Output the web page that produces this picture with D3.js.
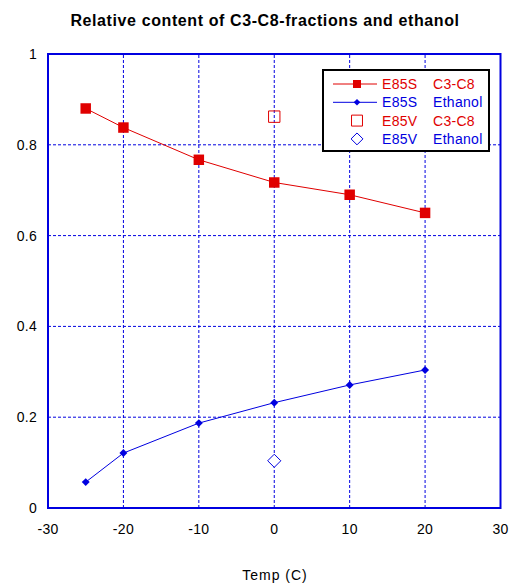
<!DOCTYPE html>
<html>
<head>
<meta charset="utf-8">
<script src="https://cdn.jsdelivr.net/npm/d3@7"></script>
<style>
  body { margin: 0; background: #fff; }
  text { font-family: "Liberation Sans", Arial, sans-serif; }
</style>
</head>
<body>
<div id="chart"></div>
<script>
var width = 509;
var height = 584;
var margin = {top: 54, right: 8, bottom: 76, left: 48};

// data
var temps = [-25, -20, -10, 0, 10, 20];
var e85sC3C8 = [0.880, 0.838, 0.767, 0.717, 0.690, 0.650];
var e85sEthanol = [0.057, 0.121, 0.187, 0.232, 0.271, 0.304];
var e85vTemp = [0];
var e85vC3C8 = [0.862];
var e85vEthanol = [0.104];

var xTicks = [-30, -20, -10, 0, 10, 20, 30];
var yTicks = [0, 0.2, 0.4, 0.6, 0.8, 1];

var legendRows = [
	{a: "E85S", b: "C3-C8", color: "#e00000", line: true, shape: "square", fill: true},
	{a: "E85S", b: "Ethanol", color: "#0000e0", line: true, shape: "diamond", fill: true},
	{a: "E85V", b: "C3-C8", color: "#e00000", line: false, shape: "square", fill: false},
	{a: "E85V", b: "Ethanol", color: "#0000e0", line: false, shape: "diamond", fill: false}
];

var svg = d3.select("#chart").append("svg")
	.attr("width", width)
	.attr("height", height);

var x = d3.scaleLinear().domain([-30, 30]).range([margin.left, width - margin.right - 0.5]);
var y = d3.scaleLinear().domain([0, 1]).range([height - margin.bottom, margin.top]);

var blue = "#0000e0";

// grid
svg.selectAll(".gx").data(xTicks.slice(1, -1)).enter().append("line")
	.attr("x1", function(d) { return x(d); })
	.attr("x2", function(d) { return x(d); })
	.attr("y1", y(0))
	.attr("y2", y(1))
	.attr("stroke", blue)
	.attr("stroke-width", 1)
	.attr("stroke-dasharray", "3,2");

svg.selectAll(".gy").data(yTicks.slice(1, -1)).enter().append("line")
	.attr("x1", x(-30))
	.attr("x2", x(30))
	.attr("y1", function(d) { return y(d); })
	.attr("y2", function(d) { return y(d); })
	.attr("stroke", blue)
	.attr("stroke-width", 1)
	.attr("stroke-dasharray", "3,2");

// frame
svg.append("rect")
	.attr("x", x(-30))
	.attr("y", y(1))
	.attr("width", x(30) - x(-30))
	.attr("height", y(0) - y(1))
	.attr("fill", "none")
	.attr("stroke", blue)
	.attr("stroke-width", 2);

// tick labels
svg.selectAll(".xt").data(xTicks).enter().append("text")
	.attr("x", function(d) { return x(d); })
	.attr("y", y(0) + 26)
	.attr("text-anchor", "middle")
	.style("font-size", "14px")
	.style("letter-spacing", "0.3px")
	.text(function(d) { return d; });

svg.selectAll(".yt").data(yTicks).enter().append("text")
	.attr("x", x(-30) - 11)
	.attr("y", function(d) { return y(d) + 5; })
	.attr("text-anchor", "end")
	.style("font-size", "14px")
	.style("letter-spacing", "0.3px")
	.text(function(d) { return d; });

// titles
svg.append("text")
	.attr("x", 265)
	.attr("y", 26)
	.attr("text-anchor", "middle")
	.attr("font-weight", "bold")
	.style("font-size", "16px")
	.style("letter-spacing", "0.6px")
	.text("Relative content of C3-C8-fractions and ethanol");

svg.append("text")
	.attr("x", 275)
	.attr("y", 580)
	.attr("text-anchor", "middle")
	.style("font-size", "14px")
	.style("letter-spacing", "1px")
	.text("Temp (C)");

var line = d3.line()
	.x(function(d) { return x(d[0]); })
	.y(function(d) { return y(d[1]); });

var c3 = d3.zip(temps, e85sC3C8);
var eth = d3.zip(temps, e85sEthanol);

svg.append("path").datum(c3).attr("d", line)
	.attr("fill", "none").attr("stroke", "#e00000").attr("stroke-width", 1);
svg.append("path").datum(eth).attr("d", line)
	.attr("fill", "none").attr("stroke", blue).attr("stroke-width", 1);

var sqSym = d3.symbol().type(d3.symbolSquare);
var diSym = d3.symbol().type(d3.symbolDiamond2);

svg.selectAll(".sq").data(c3).enter().append("path")
	.attr("transform", function(d) { return "translate(" + x(d[0]) + "," + y(d[1]) + ")"; })
	.attr("d", sqSym.size(110)())
	.attr("fill", "#e00000");

svg.selectAll(".di").data(eth).enter().append("path")
	.attr("transform", function(d) { return "translate(" + x(d[0]) + "," + y(d[1]) + ")"; })
	.attr("d", diSym.size(40)())
	.attr("fill", blue);

svg.selectAll(".vsq").data(d3.zip(e85vTemp, e85vC3C8)).enter().append("path")
	.attr("transform", function(d) { return "translate(" + x(d[0]) + "," + y(d[1]) + ")"; })
	.attr("d", sqSym.size(130)())
	.attr("fill", "none")
	.attr("stroke", "#e00000");

svg.selectAll(".vdi").data(d3.zip(e85vTemp, e85vEthanol)).enter().append("path")
	.attr("transform", function(d) { return "translate(" + x(d[0]) + "," + y(d[1]) + ")"; })
	.attr("d", diSym.size(110)())
	.attr("fill", "white")
	.attr("stroke", blue);

// legend
var lg = svg.append("g").attr("transform", "translate(323,70)");
lg.append("rect")
	.attr("width", 166)
	.attr("height", 81)
	.attr("fill", "white")
	.attr("stroke", "black")
	.attr("stroke-width", 2);

var rows = lg.selectAll(".row").data(legendRows).enter().append("g")
	.attr("transform", function(d, i) { return "translate(0," + (14 + i * 18.3) + ")"; });

rows.filter(function(d) { return d.line; }).append("line")
	.attr("x1", 10).attr("x2", 54)
	.attr("stroke", function(d) { return d.color; });

rows.append("path")
	.attr("transform", "translate(34,0)")
	.attr("d", function(d) {
		if (d.shape === "square") return sqSym.size(d.fill ? 64 : 120)();
		return diSym.size(d.fill ? 28 : 90)();
	})
	.attr("fill", function(d) { return d.fill ? d.color : "none"; })
	.attr("stroke", function(d) { return d.fill ? "none" : d.color; });

rows.append("text")
	.attr("x", 59).attr("y", 5)
	.style("font-size", "14px")
	.style("letter-spacing", "0.3px")
	.attr("fill", function(d) { return d.color; })
	.text(function(d) { return d.a; });

rows.append("text")
	.attr("x", 110).attr("y", 5)
	.style("font-size", "14px")
	.style("letter-spacing", "0.3px")
	.attr("fill", function(d) { return d.color; })
	.text(function(d) { return d.b; });
</script>
</body>
</html>
